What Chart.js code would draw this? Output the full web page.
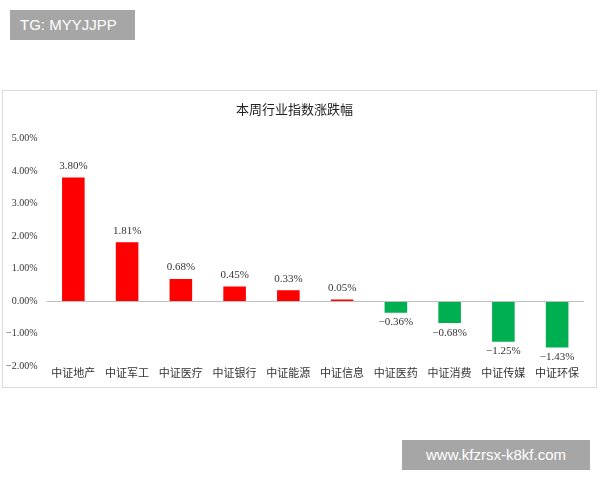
<!DOCTYPE html>
<html><head><meta charset="utf-8">
<script src="https://cdn.jsdelivr.net/npm/chart.js@4"></script>
<style>
body{margin:0;background:#fff;width:600px;height:480px;position:relative;font-family:"Liberation Serif","Noto Sans CJK SC",serif;}
#box{position:absolute;left:2px;top:90px;width:595px;height:298px;border:1px solid #d9d9d9;box-sizing:border-box;}
#wm1{position:absolute;left:10px;top:10px;width:125px;height:30px;background:#a6a6a6;color:#fff;font:15px "Liberation Sans",sans-serif;line-height:30px;padding-left:10px;box-sizing:border-box;}
#wm2{position:absolute;left:402px;top:440px;width:188px;height:30px;background:#a6a6a6;color:#fff;font:15px "Liberation Sans",sans-serif;line-height:30px;text-align:center;}
</style></head><body>
<div id="box"><canvas id="c" width="593" height="296"></canvas></div>
<div id="wm1">TG: MYYJJPP</div>
<div id="wm2">www.kfzrsx-k8kf.com</div>
<script>
const categories=["中证地产","中证军工","中证医疗","中证银行","中证能源","中证信息","中证医药","中证消费","中证传媒","中证环保"];
const values=[3.80,1.81,0.68,0.45,0.33,0.05,-0.36,-0.68,-1.25,-1.43];
const tickLabels=["-2.00%","-1.00%","0.00%","1.00%","2.00%","3.00%","4.00%","5.00%"];
const labelPlugin={id:'lbl',afterDatasetsDraw(ch){const ctx=ch.ctx;const m=ch.getDatasetMeta(0);ctx.save();ctx.font='11px "Liberation Serif","Noto Sans CJK SC",serif';ctx.fillStyle='#333';ctx.textAlign='center';
m.data.forEach((b,i)=>{const v=values[i];if(v>=0){ctx.textBaseline='bottom';ctx.fillText(v.toFixed(2)+'%',b.x,b.y-6);}else{ctx.textBaseline='top';ctx.fillText(v.toFixed(2).replace('-','−')+'%',b.x,b.y+4);}});
ctx.font='11px "Noto Sans CJK SC",serif';ctx.textBaseline='top';
const xs=ch.scales.x;categories.forEach((c,i)=>ctx.fillText(c,xs.getPixelForValue(i),ch.chartArea.bottom+1));
const y=ch.scales.y.getPixelForValue(0);ctx.strokeStyle='#bfbfbf';ctx.lineWidth=1;ctx.beginPath();ctx.moveTo(ch.chartArea.left,y+0.5);ctx.lineTo(ch.chartArea.right,y+0.5);ctx.stroke();ctx.restore();}};
new Chart(document.getElementById('c'),{type:'bar',
data:{labels:categories,datasets:[{data:values,backgroundColor:values.map(v=>v>=0?'#ff0000':'#00b050'),barPercentage:0.42,categoryPercentage:1}]},
options:{responsive:false,animation:false,layout:{padding:{left:2,right:12,top:0,bottom:13}},
plugins:{legend:{display:false},tooltip:{enabled:false},title:{display:true,text:'本周行业指数涨跌幅',color:'#222',font:{size:13,weight:'normal',family:'"Noto Sans CJK SC",serif'},padding:{top:10,bottom:22}}},
scales:{x:{grid:{display:false},border:{display:false},ticks:{display:false}},
y:{min:-2,max:5,grid:{display:false},border:{display:false},ticks:{padding:1,stepSize:1,color:'#333',font:{size:10,family:'"Liberation Serif",serif'},callback:(v)=>{const s=tickLabels[Math.round(v)+2];return s?s.replace('-','−'):'';}}}}},
plugins:[labelPlugin]});
</script></body></html>
